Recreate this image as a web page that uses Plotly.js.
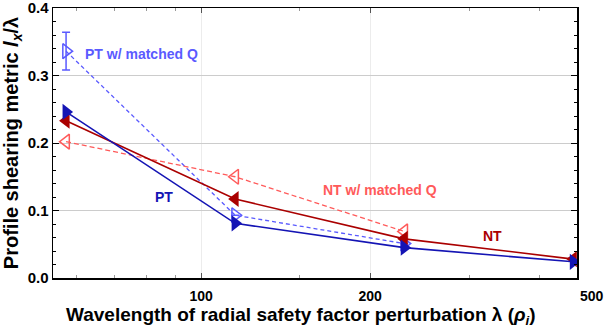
<!DOCTYPE html>
<html><head><meta charset="utf-8">
<script src="https://cdn.plot.ly/plotly-3.0.1.min.js"></script>
<style>html,body{margin:0;padding:0;background:#fff}#c{width:606px;height:329px}</style>
</head><body><div id="c"></div>
<script>
const wavelength = [57.5, 115, 230, 460];
const ptValues = [0.246, 0.081, 0.045, 0.024];
const ntValues = [0.233, 0.117, 0.058, 0.028];
const ptMatchedX = [57.5, 115, 230];
const ptMatchedValues = [0.336, 0.093, 0.051];
const ptMatchedErr = [0.028, 0, 0];
const ntMatchedX = [57.5, 115, 230];
const ntMatchedValues = [0.202, 0.150, 0.069];
const xTickVals = [100, 200];
const xTickText = ['100', '200'];
const xMinorVals = [60, 70, 80, 90, 150, 300, 400];
const yTickVals = [0, 0.1, 0.2, 0.3, 0.4];
const yTickText = ['0.0', '0.1', '0.2', '0.3', '0.4'];

const PT = '#1414b4', NT = '#aa0000', PTM = '#5a5aff', NTM = '#ff5a5a';
const F = 'Liberation Sans, Arial, sans-serif';

const traces = [
  {x: ptMatchedX, y: ptMatchedValues, mode: 'lines+markers',
   line: {color: PTM, width: 1.3, dash: '4px,3px'},
   marker: {symbol: 'triangle-right-open', size: 13, color: PTM, line: {width: 1.5}},
   error_y: {type: 'data', array: ptMatchedErr, color: PTM, thickness: 1.5, width: 4}},
  {x: ntMatchedX, y: ntMatchedValues, mode: 'lines+markers',
   line: {color: NTM, width: 1.3, dash: '5px,3px'},
   marker: {symbol: 'triangle-left-open', size: 13, color: NTM, line: {width: 1.5}}},
  {x: wavelength, y: ntValues, mode: 'lines+markers',
   line: {color: NT, width: 1.6},
   marker: {symbol: 'triangle-left', size: 14, color: NT}},
  {x: wavelength, y: ptValues, mode: 'lines+markers',
   line: {color: PT, width: 1.6},
   marker: {symbol: 'triangle-right', size: 14, color: PT}}
];

const ann = (text, x, y, color, xanchor) => ({text, x, y, xref: 'paper', yref: 'paper',
  showarrow: false, xanchor: xanchor || 'center', yanchor: 'middle',
  font: {family: F, size: 14, color, weight: 'bold'}});

const layout = {
  width: 606, height: 329,
  margin: {l: 53, r: 29, t: 8, b: 51},
  paper_bgcolor: '#fff', plot_bgcolor: '#fff',
  showlegend: false,
  font: {family: F, color: '#000'},
  xaxis: {
    type: 'log', range: [Math.log10(54.5), Math.log10(467)],
    tickmode: 'array', tickvals: xTickVals, ticktext: xTickText,
    ticks: 'inside', ticklen: 5, tickcolor: '#555', tickwidth: 1,
    ticklabelstandoff: 5,
    minor: {tickmode: 'array', tickvals: xMinorVals, ticks: 'inside', ticklen: 3, tickcolor: '#999', showgrid: false},
    showgrid: true, gridcolor: '#ececec', gridwidth: 1,
    showline: true, linecolor: '#000', linewidth: 1.5, mirror: 'ticks',
    zeroline: false,
    tickfont: {family: F, size: 14, weight: 'bold', color: '#000'}
  },
  yaxis: {
    range: [0, 0.4],
    tickmode: 'array', tickvals: yTickVals, ticktext: yTickText,
    ticklabeloverflow: 'allow',
    ticks: 'inside', ticklen: 6, tickcolor: '#000', tickwidth: 1,
    minor: {dtick: 0.02, ticks: 'inside', ticklen: 3, tickcolor: '#000', showgrid: false},
    showgrid: true, gridcolor: '#cccccc', gridwidth: 1,
    showline: true, linecolor: '#000', linewidth: 1.5, mirror: 'ticks',
    zeroline: false,
    tickfont: {family: F, size: 15, weight: 'bold', color: '#000'},
    title: {text: 'Profile shearing metric <i>l<sub>x</sub></i>/λ',
            font: {family: F, size: 20, weight: 'bold', color: '#000'}, standoff: 5}
  },
  annotations: [
    ann('PT w/ matched Q', 0.0573, 0.828, PTM, 'left'),
    ann('PT', 0.212, 0.30, PT),
    ann('NT w/ matched Q', 0.511, 0.325, NTM, 'left'),
    ann('NT', 0.838, 0.156, NT),
    {text: '500', x: 1.0286, y: -0.067, xref: 'paper', yref: 'paper', showarrow: false,
     xanchor: 'center', yanchor: 'middle', font: {family: F, size: 14, weight: 'bold', color: '#000'}},
    {text: 'Wavelength of radial safety factor perturbation λ (<i>ρ<sub>i</sub></i>)',
     x: 0.473, y: -0.141, xref: 'paper', yref: 'paper', showarrow: false,
     xanchor: 'center', yanchor: 'middle', font: {family: F, size: 19, weight: 'bold', color: '#000'}}
  ]
};
Plotly.newPlot('c', traces, layout, {displayModeBar: false, staticPlot: true});
</script></body></html>
